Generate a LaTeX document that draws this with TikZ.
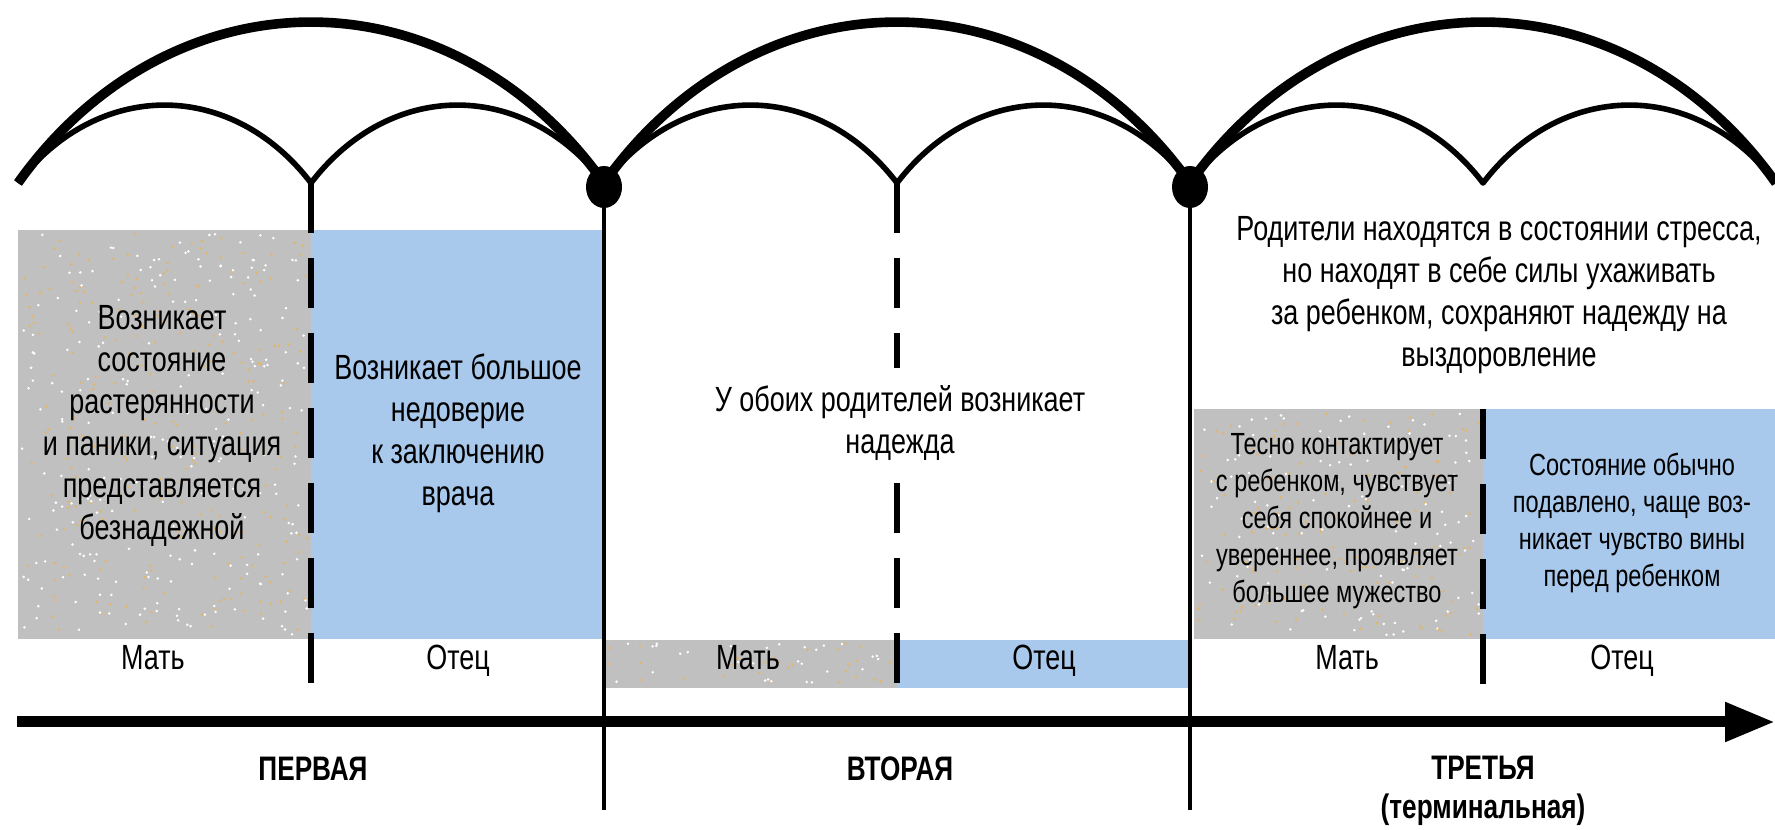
\documentclass[tikz,border=0pt]{standalone}
\usepackage{fontspec}
\setmainfont[FakeStretch=0.77]{Liberation Sans}
\usetikzlibrary{arrows.meta,positioning}
\definecolor{boxgray}{RGB}{192,192,192}
\definecolor{boxblue}{RGB}{168,200,236}
\definecolor{dotorange}{RGB}{230,180,105}
\newcommand{\stipple}[5]{%
  \foreach \k in {1,...,#5}{
    \pgfmathsetmacro{\stx}{#1+rnd*(#3-#1)}
    \pgfmathsetmacro{\sty}{#2+rnd*(#4-#2)}
    \ifodd\k \fill[white] (\stx,\sty) circle (0.7pt);
    \else \fill[dotorange] (\stx,\sty) circle (0.7pt); \fi
  }}

\begin{document}
\begin{tikzpicture}[x=0.5pt,y=0.5pt,line join=round,
  bigarc/.style={line width=4.8pt},
  smallarc/.style={line width=2.8pt},
  divider/.style={line width=3pt,dash pattern=on 25pt off 12.5pt},
  phase/.style={line width=2pt},
  txt/.style={align=center,inner sep=0pt,font=\fontsize{17.5}{21}\selectfont},
  smalltxt/.style={align=center,inner sep=0pt,font=\fontsize{15.3}{18.5}\selectfont},
  who/.style={anchor=base,inner sep=0pt,font=\fontsize{17.5}{19}\selectfont},
  stage/.style={inner sep=0pt,font=\fontsize{17}{21}\selectfont\bfseries}]
\useasboundingbox (0,0) rectangle (1775,829);

\fill[boxgray] (18,190) rectangle (311,599);
\fill[boxblue] (311,190) rectangle (604,599);
\fill[boxgray] (604,141) rectangle (897,189);
\fill[boxblue] (897,141) rectangle (1190,189);
\fill[boxgray] (1194,190) rectangle (1483,420);
\fill[boxblue] (1483,190) rectangle (1775,420);
\pgfmathsetseed{17}
\stipple{22}{194}{307}{595}{480}
\stipple{608}{145}{893}{186}{60}
\stipple{1198}{194}{1479}{416}{260}

\foreach \s in {0,1,2}{
  \draw[bigarc] (18+586*\s,646) arc[start angle=140.45,end angle=39.55,x radius=380,y radius=443];
  \draw[smallarc] (18+586*\s,646) arc[start angle=137.1,end angle=42.9,x radius=200,y radius=244]
    arc[start angle=137.1,end angle=42.9,x radius=200,y radius=244];
}
\fill (604,642) ellipse[x radius=18,y radius=21];
\fill (1190,642) ellipse[x radius=18,y radius=21];
\draw[phase] (604,642) -- (604,19);
\draw[phase] (1190,642) -- (1190,19);
\draw[divider] (311,646) -- (311,141);
\draw[divider] (897,646) -- (897,141);
\draw[divider] (1483,420) -- (1483,141);
\draw[line width=5.5pt,-{Triangle[length=25pt,width=18.5pt]}] (17,107) -- (1775,107);

\node[txt] (grayA) at (162,403) {Возникает\\состояние\\растерянности\\и паники, ситуация\\представляется\\безнадежной};
\node[txt] (blueA) at (458,396) {Возникает большое\\недоверие\\к заключению\\врача};
\node[txt,fill=white,inner ysep=9pt,inner xsep=2pt] (hope) at (900,406) {У обоих родителей возникает\\надежда};
\node[txt] (stress) at (1499,534) {Родители находятся в состоянии стресса,\\но находят в себе силы ухаживать\\за ребенком, сохраняют надежду на\\выздоровление};
\node[smalltxt] (grayC) at (1337,308) {Тесно контактирует\\с ребенком, чувствует\\себя спокойнее и\\увереннее, проявляет\\большее мужество};
\node[smalltxt] (blueC) at (1632,306) {Состояние обычно\\подавлено, чаще воз-\\никает чувство вины\\перед ребенком};

\node[who] (mat1) at (153,159) {Мать};
\node[who] (otec1) at (458,159) {Отец};
\node[who] (mat2) at (748,159) {Мать};
\node[who] (otec2) at (1044,159) {Отец};
\node[who] (mat3) at (1347,159) {Мать};
\node[who] (otec3) at (1622,159) {Отец};

\node[stage] (first) at (313,60) {ПЕРВАЯ};
\node[stage] (second) at (900,60) {ВТОРАЯ};
\node[stage] (third) at (1483,61) {ТРЕТЬЯ};
\node[stage] (term) at (1483,19) {(терминальная)};
\end{tikzpicture}
\end{document}
